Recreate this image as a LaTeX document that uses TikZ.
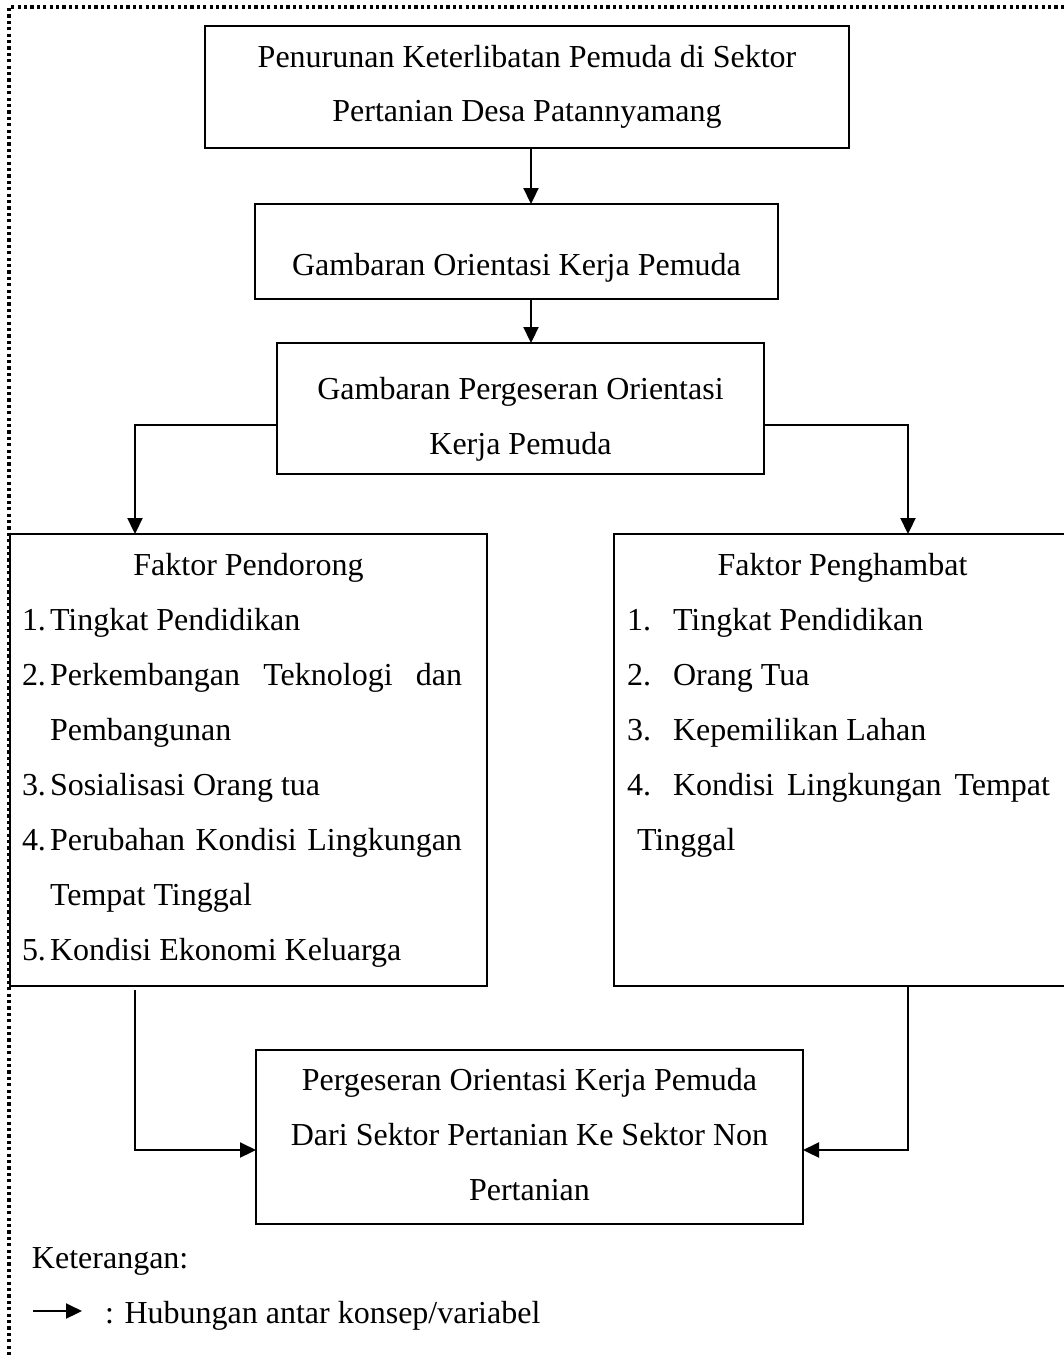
\documentclass[tikz,border=0pt]{standalone}
\usepackage{fontspec}
\setmainfont{Liberation Serif}
\usetikzlibrary{arrows.meta,fit}
\begin{document}
\begin{tikzpicture}[x=0.5pt,y=-0.5pt,
  box/.style={draw, line width=1pt, inner sep=0pt, outer sep=0pt},
  openbox/.style={draw=none, inner sep=0pt, outer sep=0pt},
  txt/.style={anchor=base, inner sep=0pt, outer sep=0pt, font=\fontsize{16pt}{27.5pt}\selectfont},
  txtl/.style={txt, anchor=base west},
  conn/.style={line width=1.1pt, -{Triangle[length=8pt,width=7.5pt]}},
  border/.style={line width=1.7pt, dash pattern=on 1.6pt off 1.6pt}]
\useasboundingbox (0,0) rectangle (1064,1356);
\clip (0,0) rectangle (1064,1356);

% dotted frame
\coordinate (f0) at (1064,7);
\coordinate (f1) at (9,7);
\coordinate (f2) at (9,1356);
\draw[border] (f0) -- (f1) -- (f2);

% boxes
\node[box, fit={(205,26) (849,148)}] (b1) {};
\node[box, fit={(255,204) (778,299)}] (b2) {};
\node[box, fit={(277,343) (764,474)}] (b3) {};
\node[box, fit={(10,534) (487,986)}] (L) {};
\node[openbox, fit={(614,534) (1071,986)}] (R) {};
\draw[line width=1pt] (R.north east) -- (R.north west) -- (R.south west) -- (R.south east);
\node[box, fit={(256,1050) (803,1224)}] (B) {};

% box texts
\node[txt] (b1t1) at (527,67) {Penurunan Keterlibatan Pemuda di Sektor};
\node[txt] (b1t2) at (527,121) {Pertanian Desa Patannyamang};
\node[txt] (b2t1) at (516.5,275) {Gambaran Orientasi Kerja Pemuda};
\node[txt] (b3t1) at (520.5,399) {Gambaran Pergeseran Orientasi};
\node[txt] (b3t2) at (520.5,454) {Kerja Pemuda};

\node[txt] (Lh) at (248.5,575) {Faktor Pendorong};
\node[txtl] (Ln1) at (22,630) {1.};
\node[txtl] (Lt1) at (50,630) {Tingkat Pendidikan};
\node[txtl] (Ln2) at (22,685) {2.};
\node[txtl] (Lt2) at (50,685) {\makebox[206pt][s]{Perkembangan Teknologi dan}};
\node[txtl] (Lt2b) at (50,740) {Pembangunan};
\node[txtl] (Ln3) at (22,795) {3.};
\node[txtl] (Lt3) at (50,795) {Sosialisasi Orang tua};
\node[txtl] (Ln4) at (22,850) {4.};
\node[txtl] (Lt4) at (50,850) {\makebox[206pt][s]{Perubahan Kondisi Lingkungan}};
\node[txtl] (Lt4b) at (50,905) {Tempat Tinggal};
\node[txtl] (Ln5) at (22,960) {5.};
\node[txtl] (Lt5) at (50,960) {Kondisi Ekonomi Keluarga};

\node[txt] (Rh) at (842.5,575) {Faktor Penghambat};
\node[txtl] (Rn1) at (627,630) {1.};
\node[txtl] (Rt1) at (673,630) {Tingkat Pendidikan};
\node[txtl] (Rn2) at (627,685) {2.};
\node[txtl] (Rt2) at (673,685) {Orang Tua};
\node[txtl] (Rn3) at (627,740) {3.};
\node[txtl] (Rt3) at (673,740) {Kepemilikan Lahan};
\node[txtl] (Rn4) at (627,795) {4.};
\node[txtl] (Rt4) at (673,795) {\makebox[188.5pt][s]{Kondisi Lingkungan Tempat}};
\node[txtl] (Rt4b) at (637,850) {Tinggal};

\node[txt] (Bt1) at (529.5,1090) {Pergeseran Orientasi Kerja Pemuda};
\node[txt] (Bt2) at (529.5,1145) {Dari Sektor Pertanian Ke Sektor Non};
\node[txt] (Bt3) at (529.5,1200) {Pertanian};

% connectors
\coordinate (ax) at (531,0);
\coordinate (jy) at (0,425);
\coordinate (lx) at (135,0);
\coordinate (rx) at (908,0);
\coordinate (by) at (0,1150);
\draw[conn] (ax |- b1.south) -- (ax |- b2.north);
\draw[conn] (ax |- b2.south) -- (ax |- b3.north);
\draw[conn] (jy -| b3.west) -| (lx |- L.north);
\draw[conn] (jy -| b3.east) -| (rx |- R.north);
\draw[conn, shorten <=2pt] (lx |- L.south) |- (by -| B.west);
\draw[conn] (rx |- R.south) |- (by -| B.east);

% legend
\node[txtl] (k) at (32,1268) {Keterangan:};
\coordinate (la) at (33,1311);
\coordinate (lb) at (82,1311);
\draw[conn] (la) -- (lb);
\node[txtl] (kt) at (105,1323) {: Hubungan antar konsep/variabel};
\end{tikzpicture}
\end{document}
